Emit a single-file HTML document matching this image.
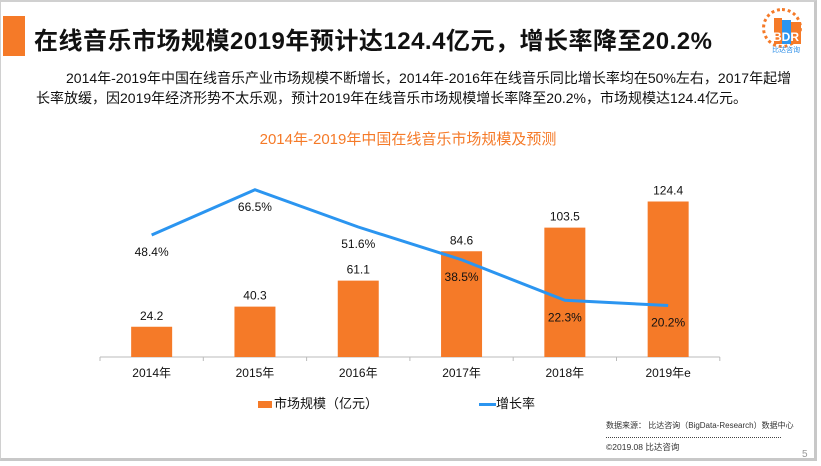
<!DOCTYPE html>
<html><head><meta charset="utf-8"><style>
body{margin:0;width:821px;height:466px;overflow:hidden;background:#fff;font-family:"Liberation Sans","Noto Sans CJK SC",sans-serif;}
.page{position:absolute;left:0;top:0;width:817px;height:461px;border-top:2px solid #d0d0d0;border-left:1px solid #d0d0d0;border-right:3px solid #c8c8c8;border-bottom:3px solid #c8c8c8;box-sizing:border-box;}
.t{position:absolute;white-space:nowrap;}
</style></head><body>
<div class="page"></div>
<div class="t" style="left:3px;top:16px;width:22px;height:40px;background:#f57a28"></div>
<div class="t" style="left:34px;top:21px;font-size:24px;font-weight:bold;color:#111;letter-spacing:0.5px">在线音乐市场规模2019年预计达124.4亿元，增长率降至20.2%</div>
<div style="position:absolute;left:762px;top:6px;width:46px;height:50px">
<div style="position:absolute;left:0;top:2px;width:40px;height:40px;border:3px dotted #f57a28;border-radius:50%;box-sizing:border-box;"></div>
<div style="position:absolute;left:12px;top:12px;width:8px;height:26px;background:#f57a28"></div>
<div style="position:absolute;left:20px;top:14px;width:9px;height:24px;background:#2b95f0"></div>
<div style="position:absolute;left:29px;top:16px;width:10px;height:22px;background:#f57a28"></div>
<div class="t" style="left:11px;top:24px;font-size:12px;font-weight:bold;color:#fff">BDR</div>
<div class="t" style="left:10px;top:39px;font-size:7px;color:#2b8ee8">比达咨询</div>
</div>
<div class="t" style="left:36px;top:68px;width:760px;white-space:normal;font-size:14px;line-height:20px;color:#111;text-indent:30px">2014年-2019年中国在线音乐产业市场规模不断增长，2014年-2016年在线音乐同比增长率均在50%左右，2017年起增长率放缓，因2019年经济形势不太乐观，预计2019年在线音乐市场规模增长率降至20.2%，市场规模达124.4亿元。</div>
<div class="t" style="left:0;width:816px;text-align:center;top:128px;font-size:15px;color:#f57a28">2014年-2019年中国在线音乐市场规模及预测</div>
<svg id="chart" width="821" height="466" style="position:absolute;left:0;top:0"></svg>
<div class="t" style="left:258px;top:393px;font-size:13px;color:#111"><span style="display:inline-block;width:14px;height:7px;background:#f57a28;vertical-align:middle;margin-right:2px"></span>市场规模（亿元）</div>
<div class="t" style="left:479px;top:393px;font-size:13px;color:#111"><span style="display:inline-block;width:17px;height:3px;background:#2b95f0;vertical-align:middle"></span>增长率</div>
<div class="t" style="left:606px;top:420px;font-size:8px;color:#333">数据来源： 比达咨询（BigData-Research）数据中心</div>
<div class="t" style="left:606px;top:437px;width:175px;border-top:1px dotted #444"></div>
<div class="t" style="left:606px;top:441px;font-size:8.5px;color:#333">©2019.08 比达咨询</div>
<div class="t" style="left:802px;top:449px;font-size:10px;color:#999">5</div>
<script>
const categories=["2014年","2015年","2016年","2017年","2018年","2019年e"];
const marketSize=[24.2,40.3,61.1,84.6,103.5,124.4];
const growthRate=[48.4,66.5,51.6,38.5,22.3,20.2];
const svg=document.getElementById('chart');
const NS='http://www.w3.org/2000/svg';
const x0=100,band=103.3,base=357,bw=41;
const xc=i=>x0+band*(i+0.5);
const yBar=v=>base-v*1.25;
const yLine=v=>base-1-v*2.5;
function mk(tag,attrs){const e=document.createElementNS(NS,tag);for(const k in attrs)e.setAttribute(k,attrs[k]);svg.appendChild(e);return e;}
const ax=mk('line',{x1:x0,x2:x0+band*6,y1:base,y2:base,stroke:'#bbb'});


for(let i=0;i<=6;i++){const tk=mk('line',{x1:x0+band*i,x2:x0+band*i,y1:base,y2:base+4,stroke:'#bbb'});

}
categories.forEach((c,i)=>{
const b=mk('rect',{x:xc(i)-bw/2,y:yBar(marketSize[i]),width:bw,height:base-yBar(marketSize[i]),fill:'#f57a28'});


const t=mk('text',{x:xc(i),y:yBar(marketSize[i])-7,'text-anchor':'middle','font-size':12,fill:'#111'});
t.textContent=marketSize[i].toFixed(1);


const l=mk('text',{x:xc(i),y:base+20,'text-anchor':'middle','font-size':12,fill:'#111'});
l.textContent=c;


});
const pl=mk('polyline',{points:growthRate.map((v,i)=>xc(i)+','+yLine(v)).join(' '),fill:'none',stroke:'#2b95f0','stroke-width':3});


growthRate.forEach((v,i)=>{
const t=mk('text',{x:xc(i),y:yLine(v)+21,'text-anchor':'middle','font-size':12,fill:'#111'});
t.textContent=v.toFixed(1)+'%';


});
</script>
</body></html>
